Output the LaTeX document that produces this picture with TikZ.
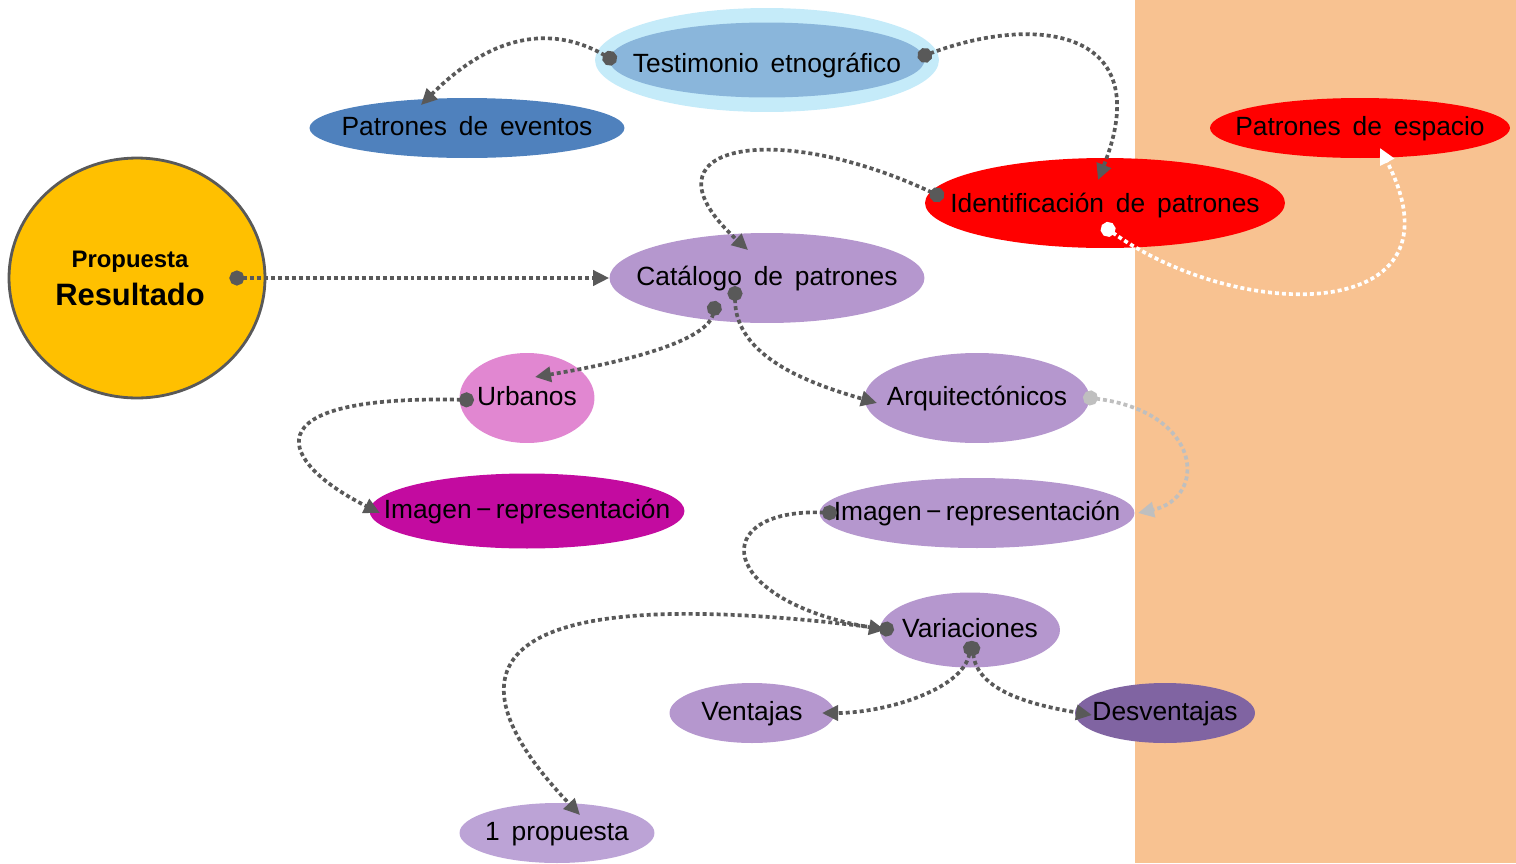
\documentclass[tikz,border=0pt]{standalone}
\usepackage{fontspec}
\setmainfont{Liberation Sans}
\usetikzlibrary{arrows.meta,shapes.geometric,calc}

\definecolor{peach}{HTML}{F8C291}
\definecolor{gold}{HTML}{FFC000}
\definecolor{edgegray}{HTML}{595959}
\definecolor{lightgray2}{HTML}{BFBFBF}
\definecolor{skyring}{HTML}{C5EBF9}
\definecolor{skyfill}{HTML}{8AB6DB}
\definecolor{steel}{HTML}{4F81BD}
\definecolor{lav}{HTML}{B597CE}
\definecolor{pinku}{HTML}{E187D1}
\definecolor{magen}{HTML}{C30BA0}
\definecolor{plum}{HTML}{8064A2}
\definecolor{lilac}{HTML}{BCA3D6}

% label set on the baseline, dropped below the node centre
\newcommand{\bl}[2][4.5pt]{\raisebox{-#1}[0pt][0pt]{\makebox[0pt]{#2}}}
\newcommand{\widesp}{\fontsize{15}{18}\selectfont\spaceskip=0.45em plus 0.1em\relax}

\begin{document}
\begin{tikzpicture}[x=0.02cm, y=0.02cm,
  blob/.style={ellipse, inner sep=0pt, font=\widesp},
  link/.style={{Circle[length=0.3cm]}-{Triangle[length=0.32cm,width=0.3cm]}, line width=2.1pt, dash pattern=on 0.08cm off 0.06cm, color=edgegray}
]
\useasboundingbox (0,0) rectangle (1516,-863);
\fill[peach] (1135,0) rectangle (1516,-863);

% nodes
\node[ellipse, fill=gold, draw=edgegray, line width=1.6pt, minimum width=5.12cm, minimum height=4.8cm, align=center] (prop) at (137,-278)
  {\hspace*{-0.28cm}\fontsize{13.6}{16}\bfseries\selectfont Propuesta\\[5pt] \hspace*{-0.28cm}\fontsize{17.6}{22}\bfseries\selectfont Resultado};
\node[blob, fill=skyring, minimum width=6.88cm, minimum height=2.08cm] (touter) at (767,-60) {};
\node[blob, fill=skyfill, minimum width=6.3cm, minimum height=1.5cm] (tinner) at (767,-60) {\bl[7pt]{Testimonio etnográfico}};
\node[blob, fill=steel, minimum width=6.3cm, minimum height=1.2cm] (eventos) at (467,-128) {\bl{Patrones de eventos}};
\node[blob, fill=red, minimum width=6cm, minimum height=1.2cm] (espacio) at (1360,-128) {\bl{Patrones de espacio}};
\node[blob, fill=red, minimum width=7.2cm, minimum height=1.8cm] (ident) at (1105,-203) {\bl[5.5pt]{Identificación de patrones}};
\node[blob, fill=lav, minimum width=6.3cm, minimum height=1.8cm] (catalogo) at (767,-278) {\bl{Catálogo de patrones}};
\node[blob, fill=pinku, minimum width=2.7cm, minimum height=1.8cm] (urbanos) at (527,-398) {\bl{Urbanos}};
\node[blob, fill=lav, minimum width=4.5cm, minimum height=1.8cm] (arqui) at (977,-398) {\bl{Arquitectónicos}};
\node[blob, fill=magen, minimum width=6.3cm, minimum height=1.5cm] (imagenA) at (527,-511) {\bl{Imagen\,−\,representación}};
\node[blob, fill=lav, minimum width=6.3cm, minimum height=1.4cm] (imagenB) at (977,-513) {\bl{Imagen\,−\,representación}};
\node[blob, fill=lav, minimum width=3.6cm, minimum height=1.5cm] (variac) at (970,-630) {\bl{Variaciones}};
\node[blob, fill=lav, minimum width=3.3cm, minimum height=1.2cm] (ventajas) at (752,-713) {\bl{Ventajas}};
\node[blob, fill=plum, minimum width=3.6cm, minimum height=1.2cm] (desv) at (1165,-713) {\bl{Desventajas}};
\node[blob, fill=lilac, minimum width=3.9cm, minimum height=1.2cm] (unaprop) at (557,-833) {\bl{1 propuesta}};

% connectors
\draw[link] ($(tinner.west)+(7,-2)$) .. controls +(-60,35) and +(75,75) .. ($(eventos)+(-46,23)$);
\draw[link] ($(tinner.east)+(-7,2)$) .. controls +(120,45) and +(60,150) .. ($(ident)+(-7,23)$);
\draw[link] ($(ident.west)+(19,5)$) .. controls +(-170,80) and +(-115,105) .. ($(catalogo)+(-19,28)$);
\draw[link, color=white] ($(ident)+(-3,-22)$) .. controls +(140,-100) and +(90,-175) .. ($(espacio)+(20,-20)$);
\draw[link] ($(prop.east)+(-37,0)$) -- (catalogo.west);
\draw[link] ($(catalogo)+(-51,-23)$) .. controls +(-10,-45) and +(60,10) .. ($(urbanos)+(8,21)$);
\draw[link] ($(catalogo)+(-32,-8)$) .. controls +(0,-70) and +(-70,20) .. ($(arqui)+(-100,-5)$);
\draw[link] ($(urbanos)+(-53,-2)$) .. controls +(-230,5) and +(-100,50) .. ($(imagenA)+(-147,-2)$);
\draw[link, color=lightgray2] ($(arqui)+(106,1)$) .. controls +(120,-15) and +(70,15) .. ($(imagenB)+(161,0)$);
\draw[link] ($(imagenB)+(-140,0)$) .. controls +(-130,5) and +(-170,30) .. ($(variac)+(-85,0)$);
\draw[link] ($(variac)+(-76,0)$) .. controls +(-470,60) and +(-110,115) .. ($(unaprop)+(23,18)$);
\draw[link] ($(variac)+(2,-11)$) .. controls +(-10,-50) and +(60,0) .. ($(ventajas)+(70,0)$);
\draw[link] ($(variac)+(2,-11)$) .. controls +(5,-50) and +(-60,10) .. ($(desv)+(-73,-2)$);
\end{tikzpicture}
\end{document}
